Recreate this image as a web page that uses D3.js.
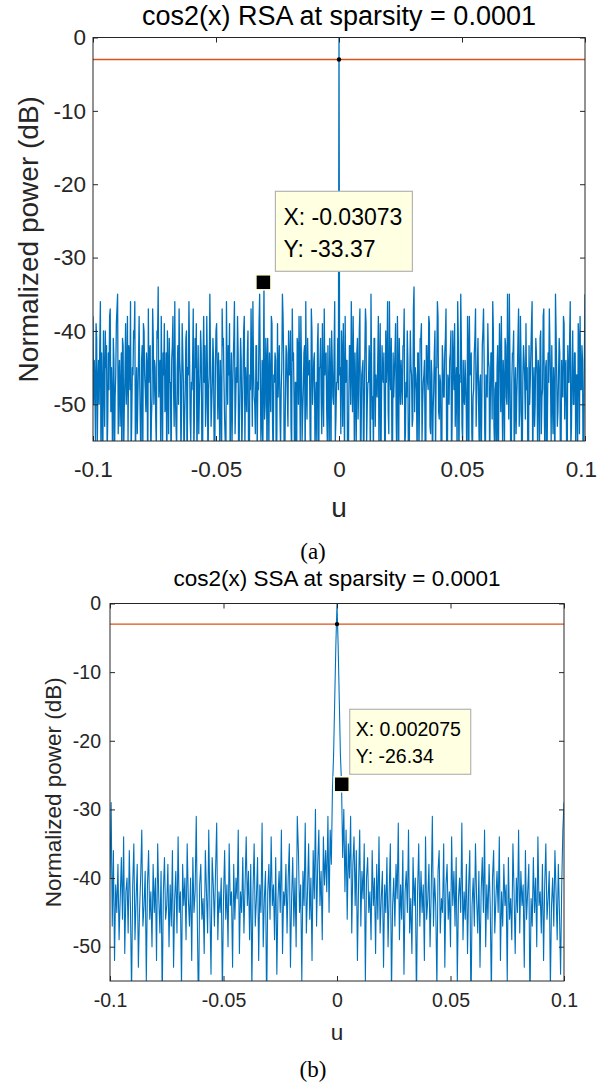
<!DOCTYPE html>
<html><head><meta charset="utf-8">
<script src="https://cdn.jsdelivr.net/npm/d3@7"></script>
<style>body{margin:0;background:#fff}svg{display:block}</style>
</head><body><svg id="c" width="598" height="1085"></svg>
<script>
// ---- RSA data (dB): main samples every 0.0005 in u from -0.1 to 0.1, plus in-between samples ----
const uStart=-0.1, uStep=0.0005;
const rsaLeft=[-38,-44,-55,-41,-47,-50,-36,-43,-58,-46,-40,-42,-52,-48,-37,-45,-61,-44,-49,-39,-35,-47,-53,-43,-41,-56,-46,-50,-38,-42,-48,-57,-45,-40,-36,-49,-54,-44,-47,-60,-42,-39,-46,-51,-45,-37,-43,-58,-49,-41,-44,-52,-40,-34,-46,-55,-48,-43,-39,-50,-62,-45,-41,-47,-44,-38,-53,-49,-56,-42,-37,-46,-51,-43,-59,-48,-40,-45,-36,-52,-47,-44,-57,-41,-39,-49,-54,-46,-43,-61,-38,-42,-50,-45,-48,-35,-53,-47,-44,-58,-40,-46,-43,-55,-49,-37,-41,-52,-60,-45,-42,-39,-48,-56,-44,-36,-50,-47,-43,-53,-41,-57,-46,-38,-45,-51,-40,-62,-48,-44,-36,-49,-54,-42,-47,-39,-45,-52,-58,-33.4,-50,-44,-41,-56,-47,-38,-53,-46,-43,-60,-39,-45,-51,-48,-35,-44,-57,-42,-49,-40,-46,-53,-37,-43,-61,-47,-41,-50,-45,-38,-55,-48,-42,-36,-52,-46,-44,-59,-40,-47,-43,-50,-56,-39,-45,-41,-54,-48,-37,-44,-51,-42,-58,-46,-40,-49,-43,-55,-47,-41];
const rsaPeak=[0];
const rsaRight=[-45,-40,-53,-47,-38,-44,-59,-49,-42,-36,-51,-46,-43,-56,-41,-48,-37,-54,-45,-62,-43,-39,-50,-47,-44,-35,-52,-57,-41,-46,-49,-38,-45,-60,-42,-47,-53,-40,-44,-51,-36,-48,-55,-43,-46,-39,-58,-45,-41,-50,-47,-42,-37,-54,-49,-44,-61,-40,-46,-52,-34,-45,-48,-43,-57,-41,-39,-50,-46,-55,-42,-47,-38,-53,-44,-59,-48,-40,-45,-36,-51,-46,-56,-42,-49,-43,-37,-62,-47,-44,-40,-52,-45,-39,-48,-57,-41,-46,-35,-53,-44,-50,-47,-60,-42,-38,-45,-54,-49,-43,-37,-48,-41,-56,-46,-52,-40,-44,-58,-47,-39,-45,-50,-43,-36,-53,-48,-61,-42,-46,-44,-38,-55,-47,-41,-49,-35,-52,-45,-59,-43,-40,-48,-54,-46,-37,-51,-44,-57,-42,-47,-39,-45,-62,-50,-43,-36,-48,-53,-41,-46,-44,-56,-40,-49,-38,-52,-45,-60,-43,-37,-47,-42,-54,-48,-35,-46,-51,-41,-58,-44,-49,-39,-45,-55,-42,-47,-36,-53,-40,-50,-43,-46,-57,-41,-38,-48,-44,-52,-35];
// samples half-way between consecutive main samples (400 values)
const rsaBetween=[-50,-47,-39,-56,-44,-42,-60,-48,-40,-53,-45,-57,-43,-38,-51,-49,-41,-58,-46,-37,-54,-44,-48,-62,-42,-50,-39,-47,-55,-43,-36,-52,-46,-41,-59,-45,-49,-38,-53,-44,-57,-40,-48,-43,-61,-47,-42,-52,-37,-50,-45,-56,-41,-49,-44,-38,-58,-46,-51,-43,-40,-54,-47,-60,-42,-48,-36,-53,-45,-50,-44,-57,-39,-47,-52,-41,-62,-46,-43,-55,-48,-37,-51,-45,-58,-42,-49,-40,-56,-44,-47,-53,-38,-61,-46,-43,-50,-41,-57,-45,-39,-52,-48,-44,-60,-42,-47,-55,-36,-50,-46,-58,-43,-49,-41,-54,-45,-38,-62,-47,-44,-51,-40,-56,-48,-43,-59,-46,-37,-53,-45,-50,-42,-57,-48,-35,-55,-44,-47,-52,-41,-60,-46,-43,-51,-39,-58,-47,-44,-54,-49,-42,-56,-45,-38,-61,-48,-43,-53,-46,-40,-57,-44,-50,-47,-62,-42,-38,-55,-45,-51,-43,-59,-48,-41,-46,-54,-37,-50,-44,-57,-47,-42,-60,-45,-49,-39,-53,-46,-43,-55,-48,-41,-58,-44,-50,-36,-52,-47,-48,-46,-54,-43,-39,-57,-47,-44,-61,-42,-50,-45,-38,-56,-48,-43,-52,-40,-59,-46,-44,-51,-37,-55,-47,-42,-60,-45,-49,-41,-53,-48,-44,-58,-39,-50,-46,-43,-62,-47,-36,-54,-45,-41,-57,-49,-43,-52,-38,-59,-46,-44,-50,-42,-56,-47,-40,-61,-48,-45,-53,-37,-51,-46,-58,-43,-49,-41,-55,-47,-44,-60,-42,-48,-39,-54,-46,-51,-43,-57,-45,-38,-52,-47,-62,-44,-49,-41,-56,-46,-50,-43,-58,-40,-48,-53,-45,-36,-59,-47,-42,-55,-49,-44,-51,-38,-61,-46,-43,-57,-48,-41,-53,-45,-50,-47,-60,-42,-37,-54,-46,-49,-44,-58,-43,-52,-40,-56,-47,-45,-62,-39,-51,-48,-44,-57,-42,-50,-46,-35,-55,-47,-43,-60,-45,-49,-41,-53,-38,-58,-46,-44,-52,-48,-56,-42,-47,-39,-61,-45,-50,-43,-57,-46,-41,-54,-48,-37,-59,-44,-51,-47,-42,-55,-49,-45,-62,-40,-53,-46,-43,-58,-48,-38,-52,-44,-60,-47,-41,-56,-45,-50,-43,-57,-46,-39,-54,-48,-42,-61,-44];
// ---- SSA data (dB): samples every 0.0005 in u from -0.1 to 0.1 ----
const ssaLeft=[-40,-29,-47,-36,-52,-41,-45,-38,-49,-43,-37,-46,-34,-51,-42,-40,-48,-36,-44,-57,-41,-35,-49,-43,-38,-53,-45,-40,-33,-47,-44,-39,-55,-41,-36,-46,-42,-50,-38,-45,-40,-52,-35,-43,-48,-39,-58,-42,-37,-46,-44,-38,-50,-41,-47,-36,-53,-43,-39,-48,-34,-45,-42,-56,-38,-44,-40,-49,-35,-43,-47,-40,-52,-37,-45,-42,-31,-47,-60,-41,-38,-46,-43,-51,-36,-42,-48,-33,-44,-54,-37,-41,-47,-39,-32,-49,-42,-45,-40,-57,-43,-36,-46,-41,-50,-35,-44,-42,-53,-38,-46,-40,-43,-33,-51,-42,-45,-37,-48,-41,-34,-44,-39,-49,-38,-56,-42,-35,-47,-43,-37,-52,-41,-45,-32,-50,-43,-39,-59,-42,-38,-46,-34,-44,-41,-49,-37,-54,-43,-39,-45,-33,-51,-42,-44,-38,-48,-40,-35,-53,-43,-37,-47,-40,-50,-31,-36,-45,-41,-55,-39,-44,-32,-48,-42,-35,-46,-40,-52,-36,-43,-30,-47,-38,-33,-44,-39,-49,-34,-41,-36,-42,-31,-45,-33,-38,-27,-22,-14,-6];
const ssaPeak=[0];
const ssaRight=[-6,-14,-22,-26.34,-37,-30,-42,-33,-46,-35,-40,-31,-48,-38,-34,-44,-36,-52,-41,-33,-47,-39,-43,-35,-55,-40,-37,-45,-42,-49,-36,-44,-40,-51,-38,-46,-34,-48,-43,-39,-53,-41,-45,-37,-50,-42,-35,-57,-44,-40,-47,-38,-43,-32,-49,-41,-46,-36,-54,-42,-39,-45,-33,-48,-43,-51,-37,-44,-40,-58,-42,-35,-47,-39,-45,-41,-52,-34,-46,-43,-38,-50,-42,-31,-47,-40,-44,-56,-39,-36,-48,-43,-45,-35,-53,-41,-38,-46,-42,-50,-34,-44,-39,-47,-37,-55,-43,-40,-45,-32,-49,-42,-46,-38,-51,-41,-36,-60,-44,-40,-47,-35,-43,-48,-39,-53,-42,-37,-45,-33,-50,-41,-46,-38,-44,-57,-40,-36,-48,-43,-39,-45,-34,-52,-42,-47,-38,-44,-41,-55,-37,-46,-43,-49,-35,-42,-51,-40,-45,-33,-48,-39,-44,-41,-53,-36,-46,-42,-38,-59,-43,-47,-37,-45,-40,-50,-34,-44,-42,-48,-38,-52,-41,-35,-46,-43,-39,-56,-44,-40,-47,-36,-42,-49,-38,-45,-54,-41,-33,-29];
const halfPowerDb=-3;
const xTicks=[-0.1,-0.05,0,0.05,0.1];
const yTicks=[0,-10,-20,-30,-40,-50];
const titles=["cos2(x) RSA at sparsity = 0.0001","cos2(x) SSA at sparsity = 0.0001"];
const tipX=[-0.03073,0.002075];
const tipY=[-33.37,-26.34];
const tipXLabel=["X: -0.03073","X: 0.002075"];
const tipYLabel=["Y: -33.37","Y: -26.34"];
const captions=["(a)","(b)"];

const svg=d3.select("#c");
const blue="#0072BD", orange="#D95319", axc="#262626";
const sans="'Liberation Sans', Arial, Helvetica, sans-serif";
const serif="'Liberation Serif', 'Times New Roman', serif";

// build point lists
const rsaMain=rsaLeft.concat(rsaPeak,rsaRight);
const rsaPts=[];
rsaMain.forEach((v,k)=>{rsaPts.push([uStart+k*uStep,v]); if(k<rsaBetween.length) rsaPts.push([uStart+(k+0.5)*uStep,rsaBetween[k]]);});
const ssaPts=ssaLeft.concat(ssaPeak,ssaRight).map((v,k)=>[uStart+k*uStep,v]);

function panel(i,pts,c){
  const g=svg.append("g");
  const x=d3.scaleLinear().domain([-0.1,0.1]).range([c.l,c.r]);
  const y=d3.scaleLinear().domain([-55,0]).range([c.b,c.t]);
  const cid="clip"+i;
  g.append("clipPath").attr("id",cid).append("rect").attr("x",c.l).attr("y",c.t).attr("width",c.r-c.l).attr("height",c.b-c.t);
  g.append("path").datum(pts).attr("clip-path",`url(#${cid})`)
    .attr("d",d3.line().x(d=>x(d[0])).y(d=>y(d[1])))
    .attr("fill","none").attr("stroke",blue).attr("stroke-width",c.lw).attr("stroke-linejoin","round");
  g.append("line").attr("x1",x(-0.1)).attr("x2",x(0.1)).attr("y1",y(halfPowerDb)).attr("y2",y(halfPowerDb))
    .attr("stroke",orange).attr("stroke-width",c.olw);
  g.append("circle").attr("cx",x(0)).attr("cy",y(halfPowerDb)).attr("r",2.2).attr("fill","#000");
  const fmt=d=>String(d);
  const ax=g.append("g").attr("transform",`translate(0,${c.b})`)
    .call(d3.axisBottom(x).tickValues(xTicks).tickFormat(fmt).tickSizeInner(-c.tk).tickSizeOuter(0).tickPadding(c.xpad));
  const ay=g.append("g").attr("transform",`translate(${c.l},0)`)
    .call(d3.axisLeft(y).tickValues(yTicks).tickFormat(fmt).tickSizeInner(-c.tk).tickSizeOuter(0).tickPadding(c.ypad));
  const at=g.append("g").attr("transform",`translate(0,${c.t})`)
    .call(d3.axisTop(x).tickValues(xTicks).tickFormat("").tickSizeInner(-c.tk).tickSizeOuter(0));
  const ar=g.append("g").attr("transform",`translate(${c.r},0)`)
    .call(d3.axisRight(y).tickValues(yTicks).tickFormat("").tickSizeInner(-c.tk).tickSizeOuter(0));
  [ax,ay,at,ar].forEach(a=>{a.select(".domain").remove();a.selectAll("line").attr("stroke",axc);
    a.selectAll("text").style("font-size",c.tf+"px").style("fill",axc).style("font-family",sans);});
  // keep the last x tick label inside the page
  ax.selectAll(".tick:last-of-type text").attr("x",-c.lastShift);
  g.append("rect").attr("x",c.l).attr("y",c.t).attr("width",c.r-c.l).attr("height",c.b-c.t)
    .attr("fill","none").attr("stroke",axc).attr("stroke-width",1);
  const txt=(sel,fs,fam,fill)=>sel.style("font-size",fs+"px").style("font-family",fam).style("fill",fill);
  txt(g.append("text").attr("x",(c.l+c.r)/2).attr("y",c.titleY).attr("text-anchor","middle"),c.titf,sans,"#000").text(titles[i]);
  txt(g.append("text").attr("transform",`translate(${c.ylx},${(c.t+c.b)/2}) rotate(-90)`).attr("text-anchor","middle")
    .attr("dominant-baseline","central"),c.lf,sans,axc).text("Normalized power (dB)");
  txt(g.append("text").attr("x",(c.l+c.r)/2).attr("y",c.uY).attr("text-anchor","middle"),c.lf,sans,axc).text("u");
  txt(g.append("text").attr("x",c.capX).attr("y",c.capY).attr("text-anchor","middle"),c.capf,serif,"#000").text(captions[i]);
  const mx=x(tipX[i]), my=y(tipY[i]);
  g.append("rect").attr("x",mx+c.bx).attr("y",my-c.by-c.bh).attr("width",c.bw).attr("height",c.bh)
    .attr("fill","#FFFFE1").attr("stroke","#B4B4B4").attr("stroke-width",1.2);
  txt(g.append("text").attr("x",mx+c.bx+c.tx).attr("y",my-c.by-c.bh+c.t1),c.df,sans,"#000").text(tipXLabel[i]);
  txt(g.append("text").attr("x",mx+c.bx+c.tx).attr("y",my-c.by-c.bh+c.t2),c.df,sans,"#000").text(tipYLabel[i]);
  g.append("rect").attr("x",mx-c.ms/2).attr("y",my-c.ms/2).attr("width",c.ms).attr("height",c.ms)
    .attr("fill","#000").attr("stroke","#FFFFE1").attr("stroke-width",1.5);
}

panel(0,rsaPts,{l:93,r:585,t:37.5,b:441,lw:1.3,olw:1.5,tk:5,xpad:20,ypad:7,tf:22.5,titf:27,lf:28,lastShift:4,
  titleY:25,ylx:28,uY:517,capX:313,capY:559,capf:23,bx:12,by:11,bw:137,bh:80,tx:8,t1:34,t2:66,df:23,ms:15});
panel(1,ssaPts,{l:110,r:564,t:603.5,b:981,lw:1.1,olw:1.1,tk:5,xpad:12,ypad:9,tf:19.5,titf:22.5,lf:22.5,lastShift:0,
  titleY:586,ylx:53,uY:1040,capX:313,capY:1077,capf:23,bx:8,by:10,bw:121,bh:65,tx:6,t1:27,t2:54,df:19.5,ms:15});
</script></body></html>
